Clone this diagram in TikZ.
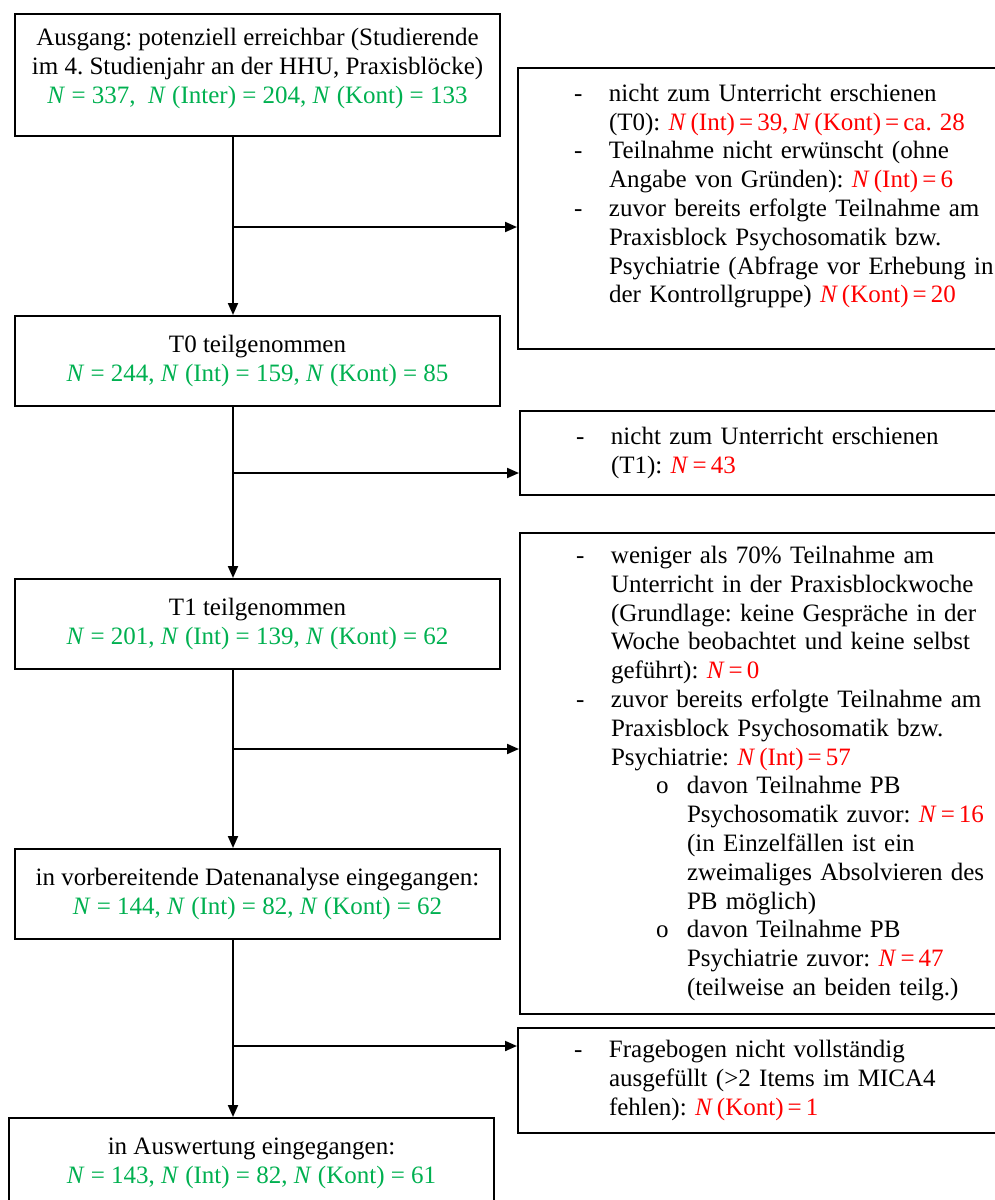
\documentclass[tikz,border=0pt]{standalone}
\usepackage{fontspec}
\setmainfont{Liberation Serif}
\usetikzlibrary{arrows.meta, positioning}
\definecolor{countgreen}{RGB}{0, 176, 80}
\definecolor{lossred}{RGB}{255, 0, 0}
\frenchspacing
\newcommand{\NN}{\textit{N}}
\newcommand{\cnt}[1]{\textcolor{countgreen}{#1}}
\newcommand{\loss}[1]{\textcolor{lossred}{\spaceskip=0.65\fontdimen2\font\relax #1}}
\newcommand{\itm}{\makebox[17.5pt][l]{-}}
\newcommand{\itmc}{\hspace*{17.5pt}}
\newcommand{\subitm}{\hspace*{40pt}\makebox[15.5pt][l]{o}}
\newcommand{\subitmc}{\hspace*{55.5pt}}
\newcommand{\lift}[1]{\rule[-#1]{0pt}{#1}}

\begin{document}
\begin{tikzpicture}[
        x=0.5pt, y=-0.5pt,
        stage/.style={rectangle, draw, line width=1pt, minimum width=242.5pt, minimum height=45pt, inner sep=0pt, align=center, anchor=north west, font=\fontsize{12.5}{14.4}\selectfont},
        excl/.style={rectangle, draw, line width=1pt, text width=230pt, inner xsep=28pt, inner ysep=0pt, align=left, anchor=north west, font=\fontsize{12.5}{14.4}\selectfont},
        arrow/.style={-{Triangle[length=6pt, width=5pt]}, line width=1pt}
    ]
        \useasboundingbox (0,0) rectangle (995,1200);
        \clip (0,0) rectangle (995,1200);

        % Main column
        \node (start) [stage, minimum height=61pt] at (14,13) {Ausgang: potenziell erreichbar (Studierende\\im 4. Studienjahr an der HHU, Praxisblöcke)\\\cnt{\NN{} = 337,~ \NN{} (Inter) = 204, \NN{} (Kont) = 133}\lift{9pt}};
        \node (t0) [stage] at (14,315) {T0 teilgenommen\\\cnt{\NN{} = 244, \NN{} (Int) = 159, \NN{} (Kont) = 85}};
        \node (t1) [stage] at (14,578) {T1 teilgenommen\\\cnt{\NN{} = 201, \NN{} (Int) = 139, \NN{} (Kont) = 62}};
        \node (prep) [stage] at (14,848) {in vorbereitende Datenanalyse eingegangen:\\\cnt{\NN{} = 144, \NN{} (Int) = 82, \NN{} (Kont) = 62}};
        \node (final) [stage] at (8,1117) {in Auswertung eingegangen:\\\cnt{\NN{} = 143, \NN{} (Int) = 82, \NN{} (Kont) = 61}};

        % Exclusion boxes
        \node (exclA) [excl, minimum height=140.5pt] at (517,67) {%
            \itm nicht zum Unterricht erschienen\\
            \itmc (T0): \loss{\NN{} (Int) = 39, \NN{} (Kont) = ca.~ 28}\\
            \itm Teilnahme nicht erwünscht (ohne\\
            \itmc Angabe von Gründen): \loss{\NN{} (Int) = 6}\\
            \itm zuvor bereits erfolgte Teilnahme am\\
            \itmc Praxisblock Psychosomatik bzw.\\
            \itmc Psychiatrie (Abfrage vor Erhebung in\\
            \itmc der Kontrollgruppe) \loss{\NN{} (Kont) = 20}\lift{15pt}};
        \node (exclB) [excl, minimum height=42pt] at (519,410) {%
            \itm nicht zum Unterricht erschienen\\
            \itmc (T1): \loss{\NN{} = 43}};
        \node (exclC) [excl, minimum height=240.5pt] at (519,532) {%
            \itm weniger als 70\% Teilnahme am\\
            \itmc Unterricht in der Praxisblockwoche\\
            \itmc (Grundlage: keine Gespräche in der\\
            \itmc Woche beobachtet und keine selbst\\
            \itmc geführt): \loss{\NN{} = 0}\\
            \itm zuvor bereits erfolgte Teilnahme am\\
            \itmc Praxisblock Psychosomatik bzw.\\
            \itmc Psychiatrie: \loss{\NN{} (Int) = 57}\\
            \subitm davon Teilnahme PB\\
            \subitmc Psychosomatik zuvor: \loss{\NN{} = 16}\\
            \subitmc (in Einzelfällen ist ein\\
            \subitmc zweimaliges Absolvieren des\\
            \subitmc PB möglich)\\
            \subitm davon Teilnahme PB\\
            \subitmc Psychiatrie zuvor: \loss{\NN{} = 47}\\
            \subitmc (teilweise an beiden teilg.)};
        \node (exclD) [excl, minimum height=52.5pt] at (517,1027) {%
            \itm Fragebogen nicht vollständig\\
            \itmc ausgefüllt (>2 Items im MICA4\\
            \itmc fehlen): \loss{\NN{} (Kont) = 1}};

        % Spine and forks
        \coordinate (spine) at (233,0);
        \coordinate (fork1) at (233,227);
        \coordinate (fork2) at (233,473);
        \coordinate (fork3) at (233,749);
        \coordinate (fork4) at (233,1046);

        % Connecting Arrows
        \draw [arrow] (start.south -| spine) -- (t0.north -| spine);
        \draw [arrow] (t0.south -| spine) -- (t1.north -| spine);
        \draw [arrow] (t1.south -| spine) -- (prep.north -| spine);
        \draw [arrow] (prep.south -| spine) -- (final.north -| spine);
        \draw [arrow] (fork1) -- (fork1 -| exclA.west);
        \draw [arrow] (fork2) -- (fork2 -| exclB.west);
        \draw [arrow] (fork3) -- (fork3 -| exclC.west);
        \draw [arrow] (fork4) -- (fork4 -| exclD.west);
    \end{tikzpicture}
\end{document}
